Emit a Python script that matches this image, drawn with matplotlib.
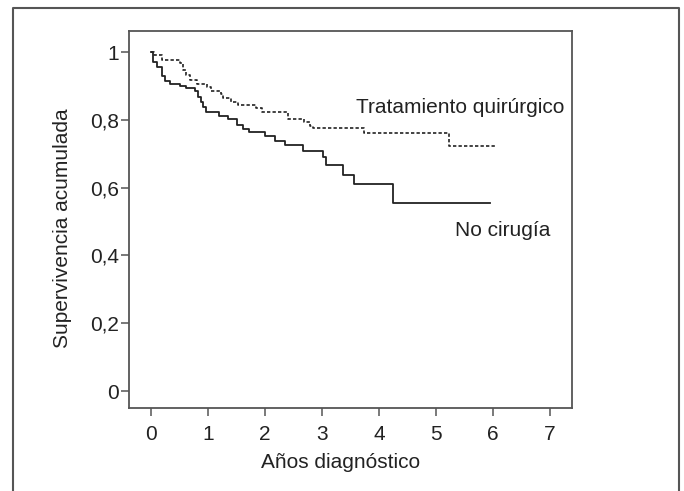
import matplotlib
matplotlib.use("Agg")
import matplotlib.pyplot as plt
from matplotlib.lines import Line2D

plt.rcParams['font.family'] = ['Liberation Sans Narrow', 'Liberation Sans', 'DejaVu Sans']

# Kaplan-Meier step data (time in years, cumulative survival after each drop)
no_cirugia_t = [0.0, 0.03, 0.10, 0.20, 0.25, 0.33, 0.50, 0.62, 0.78, 0.83, 0.87, 0.92, 0.97,
                1.20, 1.35, 1.50, 1.62, 1.72, 2.00, 2.18, 2.35, 2.67, 3.02, 3.07, 3.37,
                3.56, 4.25, 5.95]
no_cirugia_s = [1.0, 0.970, 0.955, 0.930, 0.915, 0.905, 0.900, 0.893, 0.885, 0.868, 0.852,
                0.838, 0.822, 0.812, 0.803, 0.785, 0.772, 0.764, 0.752, 0.738, 0.726,
                0.709, 0.689, 0.667, 0.637, 0.610, 0.555, 0.555]

cirugia_t = [0.0, 0.05, 0.20, 0.50, 0.57, 0.62, 0.68, 0.80, 0.98, 1.05, 1.22, 1.26, 1.40,
             1.52, 1.85, 1.94, 2.40, 2.68, 2.79, 2.85, 3.73, 5.22, 6.05]
cirugia_s = [1.0, 0.990, 0.975, 0.967, 0.947, 0.932, 0.917, 0.907, 0.897, 0.886, 0.876,
             0.863, 0.853, 0.845, 0.836, 0.824, 0.802, 0.795, 0.782, 0.775, 0.761,
             0.724, 0.724]

x_ticks = [0, 1, 2, 3, 4, 5, 6, 7]
y_ticks = [0, 0.2, 0.4, 0.6, 0.8, 1.0]
y_ticklabels = ["0", "0,2", "0,4", "0,6", "0,8", "1"]

W, H = 684, 491
fig = plt.figure(figsize=(W / 100, H / 100), dpi=100)
fig.patch.set_facecolor('white')

frame_col = '#555555'
txt_col = '#222222'
# Outer border (open at bottom)
fig.add_artist(Line2D([13 / W, 13 / W, 679 / W, 679 / W],
                      [0, 1 - 8 / H, 1 - 8 / H, 0],
                      transform=fig.transFigure, color=frame_col, lw=1.5))

left, right, top, bottom = 129, 572, 31, 408
ax = fig.add_axes([left / W, 1 - bottom / H, (right - left) / W, (bottom - top) / H])

ax.step(no_cirugia_t, no_cirugia_s, where='post', color='#222222', lw=1.3)
ax.step(cirugia_t, cirugia_s, where='post', color='#222222', lw=1.2,
        linestyle=(0, (2.0, 1.3)))

ax.set_xlim(-0.386, 7.386)
ax.set_ylim(-0.05, 1.062)
ax.set_xticks(x_ticks)
ax.set_xticklabels([str(v) for v in x_ticks])
ax.set_yticks(y_ticks)
ax.set_yticklabels(y_ticklabels)

for sp in ax.spines.values():
    sp.set_color(frame_col)
    sp.set_linewidth(1.3)
ax.tick_params(direction='out', length=6, width=1.1, color=frame_col,
               labelsize=15, labelcolor=txt_col)
ax.tick_params(axis='x', pad=6)
ax.tick_params(axis='y', pad=1)

fig.text(341 / W, 1 - 463 / H, "Años diagnóstico", fontsize=15, color=txt_col,
         ha='center', va='center')
fig.text(63 / W, 1 - 228 / H, "Supervivencia acumulada", fontsize=15, color=txt_col,
         ha='center', va='center', rotation=90)

fig.text(356 / W, 1 - 108 / H, "Tratamiento quirúrgico", fontsize=15,
         color=txt_col, va='center', ha='left')
fig.text(455 / W, 1 - 230 / H, "No cirugía", fontsize=15,
         color=txt_col, va='center', ha='left')

fig.savefig("out.png", dpi=100, facecolor='white')
